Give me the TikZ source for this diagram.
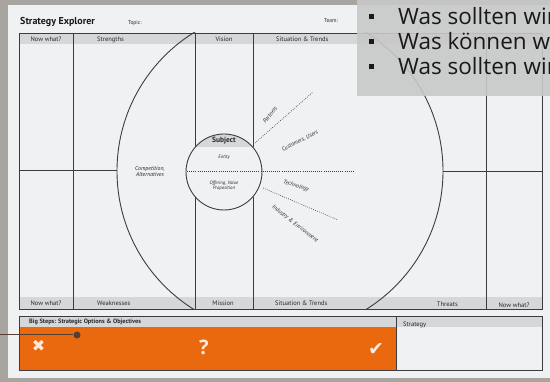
\documentclass[tikz,border=0pt]{standalone}
\usepackage{fontspec}
\setmainfont{PT Sans}
\newfontfamily\slidefont{Open Sans}
\newfontfamily\symfont{DejaVu Sans}
\definecolor{bgc}{RGB}{168,165,160}
\definecolor{paperc}{RGB}{239,241,243}
\definecolor{bandc}{RGB}{214,215,217}
\definecolor{linec}{RGB}{60,60,62}
\definecolor{textc}{RGB}{40,40,42}
\definecolor{orangec}{RGB}{234,104,14}
\definecolor{overc}{RGB}{200,200,200}
\definecolor{pinc}{RGB}{85,62,52}
\definecolor{markc}{RGB}{248,236,226}
\tikzset{
  frameline/.style={draw=linec, line width=0.9pt},
  rayline/.style={draw=linec, line width=0.7pt, dash pattern=on 0.7pt off 1.4pt},
  hdr/.style={font=\fontsize{6.5}{7}\selectfont, text=textc, inner sep=0pt},
  sublbl/.style={font=\itshape\fontsize{5.8}{6.5}\selectfont, text=textc, inner sep=0pt, align=center},
  tinylbl/.style={font=\itshape\fontsize{4.8}{5.4}\selectfont, text=textc, inner sep=0pt, align=center},
  slidetxt/.style={font=\slidefont\fontsize{22.5}{24}\selectfont, text=black!90, inner sep=0pt, anchor=base west},
  bulletsq/.style={fill=black!90, minimum size=5pt, inner sep=0pt},
  bigmark/.style={text=markc, inner sep=0pt}
}
\begin{document}
\begin{tikzpicture}[x=1pt,y=-1pt]
\useasboundingbox (0,0) rectangle (550,382);
\clip (0,0) rectangle (550,382);
% background and paper
\fill[bgc] (0,0) rectangle (550,382);
\fill[paperc] (8,5) rectangle (550,378);
% bands
\fill[bandc] (19,33) rectangle (542,44);
\fill[bandc] (19,297) rectangle (542,309);
% big circle
\begin{scope}
  \clip (0,33) rectangle (550,309);
  \draw[frameline] (280,171) circle (163);
\end{scope}
% frame
\draw[frameline] (19,33) rectangle (542,309);
\draw[frameline] (73,33) -- (73,309);
\draw[frameline] (486,33) -- (486,309);
\draw[frameline] (19,170) -- (117,170);
\draw[frameline] (443,171) -- (542,171);
\draw[frameline] (195,33) -- (195,147.4);
\draw[frameline] (253,33) -- (253,147.4);
\draw[frameline] (195,196.6) -- (195,309);
\draw[frameline] (253,196.6) -- (253,309);
% subject circle
\fill[paperc] (224,172) circle (38);
\begin{scope}
  \clip (224,172) circle (38);
  \fill[bandc] (180,120) rectangle (270,147.4);
\end{scope}
\node[circle, frameline, minimum size=76pt, inner sep=0pt] (subj) at (224,172) {};
% rays
\coordinate (r1a) at (255,143); \coordinate (r1b) at (313,92);
\coordinate (r2a) at (187,171); \coordinate (r2b) at (354,171);
\coordinate (r3a) at (263,188); \coordinate (r3b) at (338,220);
\draw[rayline] (r1a) -- (r1b);
\draw[rayline] (r2a) -- (r2b);
\draw[rayline] (r3a) -- (r3b);
% titles
\node[anchor=base west, inner sep=0pt, text=black!90, font=\bfseries\fontsize{10}{12}\selectfont] (title) at (20,25) {Strategy Explorer};
\node[anchor=base west, inner sep=0pt, text=textc, font=\fontsize{5.5}{6}\selectfont] (topic) at (128,25) {Topic:};
\node[anchor=base west, inner sep=0pt, text=textc, font=\fontsize{5.5}{6}\selectfont] (team) at (324,23) {Team:};
% headers
\node[hdr] (h1) at (46,39.5) {Now what?};
\node[hdr, anchor=west] (h2) at (97,39.5) {Strengths};
\node[hdr] (h3) at (224,39.5) {Vision};
\node[hdr, anchor=west] (h4) at (276,39.5) {Situation \& Trends};
% footers
\node[hdr] (f1) at (46,303) {Now what?};
\node[hdr, anchor=west] (f2) at (97,303) {Weaknesses};
\node[hdr] (f3) at (223,303) {Mission};
\node[hdr, anchor=west] (f4) at (275,303) {Situation \& Trends};
\node[hdr, anchor=east] (f5) at (458,304) {Threats};
\node[hdr] (f6) at (514,305) {Now what?};
% inner labels
\node[sublbl] (comp) at (150,171.5) {Competition,\\Alternatives};
\node[inner sep=0pt, text=textc, font=\bfseries\fontsize{7.5}{8}\selectfont] (subjt) at (224,141) {Subject};
\node[tinylbl] (entity) at (224,157) {Entity};
\node[tinylbl] (offer) at (224,186) {Offering, Value\\Proposition};
\node[sublbl, rotate=52] (partners) at (270,115) {Partners};
\node[sublbl, rotate=27] (cust) at (300,141) {Customers, Users};
\node[sublbl, rotate=-17] (tech) at (296,186) {Technology};
\node[sublbl, rotate=-38] (ind) at (295,224) {Industry \& Environment};
% bottom box
\fill[bandc] (19,316) rectangle (542,327);
\fill[orangec] (19,327) rectangle (396,370);
\draw[frameline] (19,316) rectangle (542,370);
\draw[frameline] (396,316) -- (396,370);
\node[anchor=west, inner sep=0pt, text=textc, font=\bfseries\fontsize{6.3}{7}\selectfont] (bigsteps) at (29,321.5) {Big Steps: Strategic Options \& Objectives};
\node[hdr, anchor=west] (strat) at (403,325) {Strategy};
\node[bigmark, font=\symfont\fontsize{16}{16}\selectfont] (xmark) at (38.5,346) {✖};
\node[bigmark, font=\slidefont\bfseries\fontsize{20}{20}\selectfont] (qmark) at (204,347) {?};
\node[bigmark, font=\symfont\fontsize{19}{19}\selectfont] (cmark) at (376,350) {✔};
% pin connector
\coordinate (pinstart) at (0,335);
\node[circle, fill=pinc, minimum size=7pt, inner sep=0pt] (pin) at (77,335) {};
\draw[draw=pinc, line width=1pt] (pinstart) -- (pin);
% slide overlay
\fill[overc, opacity=0.9] (357,0) rectangle (550,96);
\node[bulletsq] (b1) at (371.5,17) {};
\node[bulletsq] (b2) at (371.5,41.5) {};
\node[bulletsq] (b3) at (371.5,67) {};
\node[slidetxt] (t1) at (398,25) {Was sollten wir};
\node[slidetxt] (t2) at (398,49.5) {Was können wir};
\node[slidetxt] (t3) at (398,75) {Was sollten wir};
\end{tikzpicture}
\end{document}
